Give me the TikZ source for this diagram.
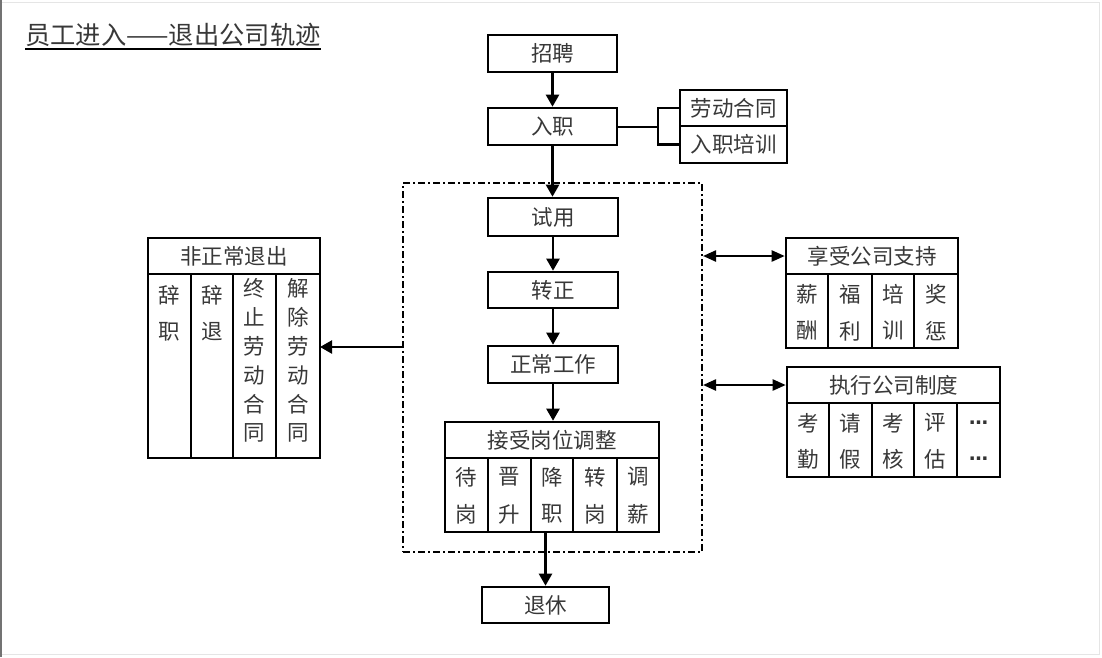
\documentclass[tikz,border=0pt]{standalone}
\usepackage{fontspec}
\newfontfamily\cjk{Noto Sans CJK SC}
\newfontfamily\dejav{DejaVu Sans}
\usetikzlibrary{arrows.meta}
\begin{document}
\begin{tikzpicture}[x=1pt,y=-1pt,
  every node/.style={font=\cjk\fontsize{21.5}{24}\selectfont, text=black!78, inner sep=0pt},
  box/.style={draw=black, line width=2.6pt},
  conn/.style={draw=black, line width=2.3pt},
  arr/.style={conn, -{Triangle[length=12pt,width=13pt]}},
  arrtwo/.style={conn, {Triangle[length=13pt,width=11pt]}-{Triangle[length=13pt,width=11pt]}},
  frame/.style={draw=black, line width=2pt, dash pattern=on 7pt off 3pt on 2pt off 3pt},
  dotsfont/.style={font={\dejav\bfseries\fontsize{19}{19}\selectfont}, text=black!80}]
\useasboundingbox (0,0) rectangle (1102,657);
\fill[white] (0,0) rectangle (1102,657);
\draw[black!10, line width=1pt] (1,2) -- (1099,2) -- (1099,654) -- (1,654);
\draw[black!55, line width=2.5pt] (1.2,0) -- (1.2,657);

% title
\node[anchor=base west, font={\cjk\fontsize{25.3}{28}\selectfont}] (title) at (25,44) {员工进入——退出公司轨迹};
\draw[line width=2.2pt] ([yshift=-2.5pt]title.south west) -- ([yshift=-2.5pt]title.south east);

% dashed frame
\node[frame, minimum width=299pt, minimum height=369pt] (frm) at (552.5,367.5) {};

% main column
\node[box, minimum width=129pt, minimum height=37pt] (zp) at (552.5,53.5) {招聘};
\node[box, minimum width=129pt, minimum height=37pt] (rz) at (552.5,126.5) {入职};
\node[box, minimum width=107pt, minimum height=36pt] (ht) at (733.5,108) {劳动合同};
\node[box, minimum width=107pt, minimum height=37pt] (px) at (733.5,144.5) {入职培训};
\node[box, minimum width=130pt, minimum height=38pt] (sy) at (553,217) {试用};
\node[box, minimum width=130pt, minimum height=36pt] (zz) at (553,290) {转正};
\node[box, minimum width=130pt, minimum height=37pt] (zc) at (553,364.5) {正常工作};
\node[box, minimum width=214pt, minimum height=36pt] (tz) at (552,440) {接受岗位调整};
\foreach \a/\b/\p/\q [count=\i] in {445/488/待/岗, 488/531/晋/升, 531/573/降/职, 573/617/转/岗, 617/659/调/薪} {
  \node[box, minimum width={\b-\a}, minimum height=74pt] (tzc\i) at ({(\a+\b)/2},495) {};
  \node (tzc\i a) at ({(\a+\b)/2},477) {\p};
  \node (tzc\i b) at ({(\a+\b)/2},514) {\q};
}
\node[box, minimum width=127pt, minimum height=36pt] (tx) at (545.5,605) {退休};

% connectors main
\draw[arr] (zp.south) -- (rz.north);
\draw[arr] (rz.south) -- (rz.south |- sy.north);
\draw[arr] (sy.south) -- (zz.north);
\draw[arr] (zz.south) -- (zc.north);
\draw[arr] (zc.south) -- (zc.south |- tz.north);
\draw[arr] (tx.north |- tzc3.south) -- (tx.north);
\coordinate (bk) at (658,127);
\draw[conn] (rz.east |- bk) -- (bk);
\draw[conn] (ht.west) -| (bk) |- (px.west);

% left box
\node[box, minimum width=172pt, minimum height=36pt] (nz) at (234,256) {非正常退出};
\foreach \a/\b [count=\i] in {148/191, 191/233, 233/276, 276/320} {
  \node[box, minimum width={\b-\a}, minimum height=184pt] (nzc\i) at ({(\a+\b)/2},366) {};
}
\foreach \c [count=\j] in {辞,职} { \node (nza\j) at (169.5,{295+(\j-1)*37}) {\c}; }
\foreach \c [count=\j] in {辞,退} { \node (nzb\j) at (212,{295+(\j-1)*37}) {\c}; }
\foreach \c [count=\j] in {终,止,劳,动,合,同} { \node (nzcc\j) at (254.5,{288+(\j-1)*29}) {\c}; }
\foreach \c [count=\j] in {解,除,劳,动,合,同} { \node (nzd\j) at (298,{288+(\j-1)*29}) {\c}; }
\coordinate (lend) at (320,347);
\draw[arr] (frm.west |- lend) -- (lend);

% right box 1
\node[box, minimum width=172pt, minimum height=36pt] (zc1) at (872,256) {享受公司支持};
\foreach \a/\b/\p/\q [count=\i] in {786/828/薪/酬, 828/872/福/利, 872/914/培/训, 914/958/奖/惩} {
  \node[box, minimum width={\b-\a}, minimum height=74pt] (zcc\i) at ({(\a+\b)/2},311) {};
  \node (zcc\i a) at ({(\a+\b)/2},294) {\p};
  \node (zcc\i b) at ({(\a+\b)/2},331) {\q};
}
\draw[arrtwo] (frm.east |- zc1.west) -- (zc1.west);

% right box 2
\node[box, minimum width=213pt, minimum height=36pt] (zd) at (893.5,385) {执行公司制度};
\foreach \a/\b/\p/\q [count=\i] in {787/829/考/勤, 829/872/请/假, 872/914/考/核, 914/957/评/估} {
  \node[box, minimum width={\b-\a}, minimum height=74pt] (zdc\i) at ({(\a+\b)/2},440) {};
  \node (zdc\i a) at ({(\a+\b)/2},423) {\p};
  \node (zdc\i b) at ({(\a+\b)/2},459) {\q};
}
\node[box, minimum width=43pt, minimum height=74pt] (zdc5) at (978.5,440) {};
\node[dotsfont] (zdc5a) at (978.5,423) {…};
\node[dotsfont] (zdc5b) at (978.5,459) {…};
\draw[arrtwo] (frm.east |- zd.west) -- (zd.west);
\end{tikzpicture}
\end{document}
